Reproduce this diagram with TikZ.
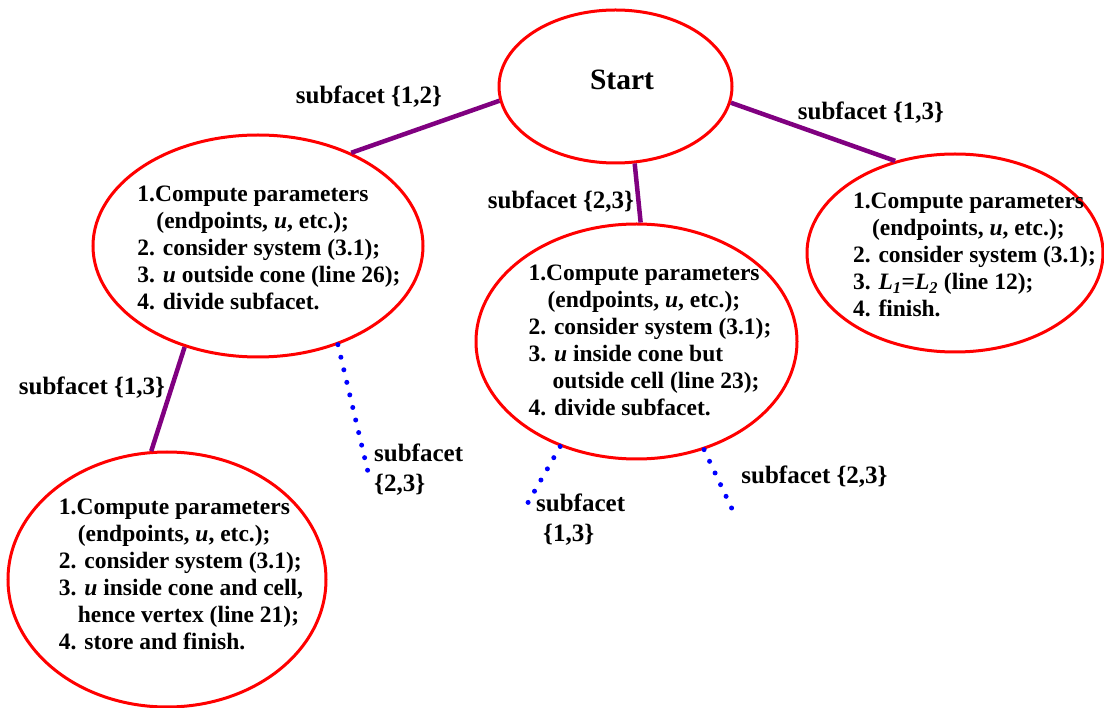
\documentclass[tikz,border=0pt]{standalone}
\usepackage{fontspec}
\setmainfont{Liberation Serif}
\usepackage{tikz}
\usetikzlibrary{shapes.geometric}

\begin{document}
\begin{tikzpicture}[x=1pt,y=-1pt,
  cell/.style={draw=red,line width=3pt,ellipse,inner sep=0pt},
  body/.style={align=left,inner sep=0pt,font=\fontsize{23.5}{27}\selectfont\bfseries},
  lbl/.style={align=left,inner sep=0pt,font=\fontsize{25}{30}\selectfont\bfseries},
  branch/.style={draw={rgb,255:red,128;green,0;blue,128},line width=4.5pt},
  dotbranch/.style={draw=blue,line width=5pt,line cap=round,dash pattern=on 0pt off 12.9pt}]
\useasboundingbox (0,0) rectangle (1104,708);
\node[cell,minimum width=233,minimum height=153] (start) at (615.5,86.5) {};
\node[inner sep=0pt,font=\fontsize{29.5}{32}\selectfont\bfseries] (starttxt) at (622,80) {Start};
\node[cell,minimum width=330,minimum height=222] (e1) at (258,246) {};
\node[cell,minimum width=321,minimum height=235] (e2) at (636.5,341.5) {};
\node[cell,minimum width=296,minimum height=198] (e3) at (955,253) {};
\node[cell,minimum width=318,minimum height=255] (e4) at (167,579.5) {};
\node[body] (e1txt) at (269,248) {1.Compute parameters\\\hspace*{19pt}(endpoints, \textit{u}, etc.);\\2. consider system (3.1);\\3. \textit{u} outside cone (line 26);\\4. divide subfacet.};
\node[body] (e2txt) at (650,340) {1.Compute parameters\\\hspace*{19pt}(endpoints, \textit{u}, etc.);\\2. consider system (3.1);\\3. \textit{u} inside cone but\\\hspace*{24pt}outside cell (line 23);\\4. divide subfacet.};
\node[body] (e3txt) at (974.5,255) {1.Compute parameters\\\hspace*{19pt}(endpoints, \textit{u}, etc.);\\2. consider system (3.1);\\3. \textit{L\textsubscript{1}}=\textit{L\textsubscript{2}} (line 12);\\4. finish.};
\node[body] (e4txt) at (181,574.5) {1.Compute parameters\\\hspace*{19pt}(endpoints, \textit{u}, etc.);\\2. consider system (3.1);\\3. \textit{u} inside cone and cell,\\\hspace*{19pt}hence vertex (line 21);\\4. store and finish.};
\draw[branch] (start.187) -- (e1.45);
\draw[branch] (start.284) -- (e2.88);
\draw[branch] (start.352) -- (e3.123.4);
\draw[branch] (e1.234) -- (e4.97);
\coordinate (d1) at (368,472);
\coordinate (d2) at (522,513);
\coordinate (d3) at (733,511);
\draw[dotbranch] (e1.309) -- (d1);
\draw[dotbranch] (e2.234) -- (d2);
\draw[dotbranch] (e2.302.5) -- (d3);
\node[lbl] (l12) at (369,97) {subfacet \{1,2\}};
\node[lbl] (l23) at (561,202) {subfacet \{2,3\}};
\node[lbl] (l13) at (871,113) {subfacet \{1,3\}};
\node[lbl] (l13b) at (92,388) {subfacet \{1,3\}};
\node[lbl,anchor=west] (l23b) at (374,470) {subfacet\\\{2,3\}};
\node[lbl,anchor=west] (l13c) at (536,520) {subfacet\\\hspace*{7pt}\{1,3\}};
\node[lbl] (l23c) at (814.5,477) {subfacet \{2,3\}};
\end{tikzpicture}
\end{document}
